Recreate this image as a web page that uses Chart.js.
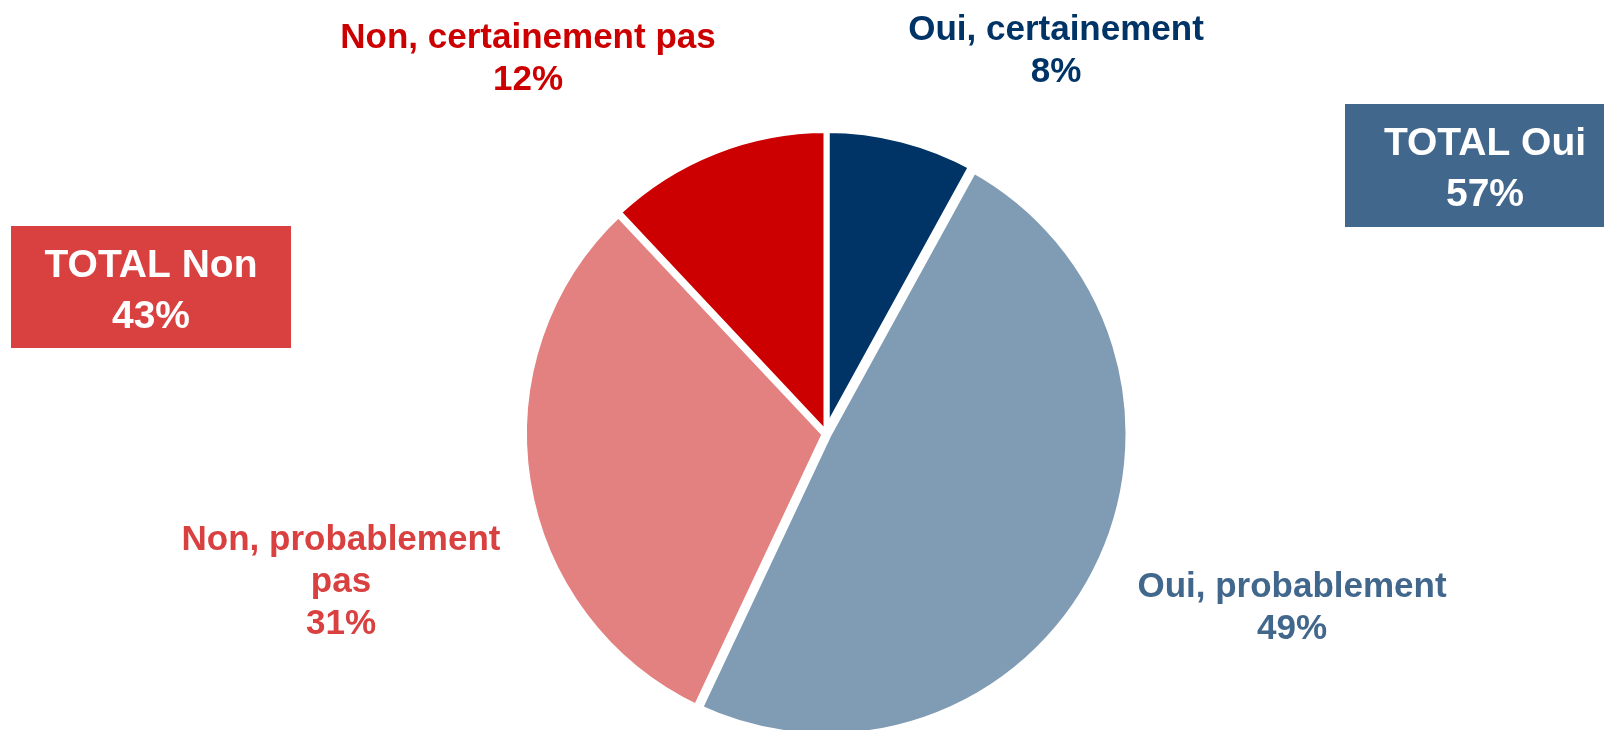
<!DOCTYPE html>
<html>
<head>
<meta charset="utf-8">
<script src="https://cdn.jsdelivr.net/npm/chart.js@4/dist/chart.umd.min.js"></script>
<style>
    body { margin: 0; background: #ffffff; overflow: hidden; }
    #wrap { width: 1604px; height: 730px; }
</style>
</head>
<body>
<div id="wrap"><canvas id="pieChart" width="1604" height="730"></canvas></div>
<script>
// survey answers, clockwise from 12 o'clock
const categories = ['Oui, certainement', 'Oui, probablement', 'Non, probablement pas', 'Non, certainement pas'];
const values = [8, 49, 31, 12];
const answerGroup = ['Oui', 'Oui', 'Non', 'Non'];
const totalLabels = ['TOTAL Oui', 'TOTAL Non'];

const sliceColors = ['#003366', '#809cb5', '#e38080', '#cc0000'];
const labelColors = ['#003366', '#42678c', '#d94141', '#cc0000'];

// where each label sits: center x, first baseline y, wrap width
const labelPos = [
    { x: 1056, y: 40, wrap: 400 },
    { x: 1292, y: 597, wrap: 400 },
    { x: 341, y: 550, wrap: 340 },
    { x: 528, y: 48, wrap: 440 }
];
// the two TOTAL boxes
const totalBoxes = [
    { group: 'Oui', x: 1345, y: 104, w: 270, h: 123, textX: 1485, base: 155, color: '#42678c' },
    { group: 'Non', x: 11, y: 226, w: 280, h: 122, textX: 151, base: 277, color: '#d94141' }
];

function wrapText(ctx, text, maxWidth) {
    const words = text.split(' ');
    const lines = [];
    let line = '';
    words.forEach(w => {
        const test = line ? line + ' ' + w : w;
        if (line && ctx.measureText(test).width > maxWidth) {
            lines.push(line);
            line = w;
        } else {
            line = test;
        }
    });
    lines.push(line);
    return lines;
}

// draws the slice labels and the total boxes on top of the pie
const labelPlugin = {
    id: 'sliceLabels',
    afterDraw(chart) {
        const ctx = chart.ctx;
        ctx.save();
        ctx.textAlign = 'center';
        ctx.textBaseline = 'alphabetic';

        ctx.font = 'bold 35px "Liberation Sans", Arial, sans-serif';
        categories.forEach((cat, i) => {
            const pos = labelPos[i];
            const lines = wrapText(ctx, cat, pos.wrap);
            lines.push(values[i] + '%');
            ctx.fillStyle = labelColors[i];
            lines.forEach((l, k) => ctx.fillText(l, pos.x, pos.y + k * 42));
        });

        totalBoxes.forEach((box, j) => {
            let sum = 0;
            values.forEach((v, i) => { if (answerGroup[i] === box.group) sum += v; });
            ctx.fillStyle = box.color;
            ctx.fillRect(box.x, box.y, box.w, box.h);
            ctx.fillStyle = '#ffffff';
            ctx.font = 'bold 39px "Liberation Sans", Arial, sans-serif';
            ctx.fillText(totalLabels[j], box.textX, box.base);
            ctx.fillText(sum + '%', box.textX, box.base + 51);
        });
        ctx.restore();
    }
};

const pieData = {
    labels: categories,
    datasets: [{
        data: values,
        backgroundColor: sliceColors,
        borderColor: '#ffffff',
        borderWidth: [6, 10, 9, 6] // gaps are a bit wider round the light blue slice
    }]
};

const configPie = {
    type: 'pie',
    data: pieData,
    options: {
        responsive: false,
        animation: false,
        events: [],
        radius: 304,
        layout: {
            padding: { left: 49, top: 138, right: 0, bottom: 0 }
        },
        plugins: {
            legend: { display: false },
            tooltip: { enabled: false }
        }
    },
    plugins: [labelPlugin]
};

const getPie = document.getElementById('pieChart').getContext('2d');
const myPie = new Chart(getPie, configPie);
</script>
</body>
</html>
